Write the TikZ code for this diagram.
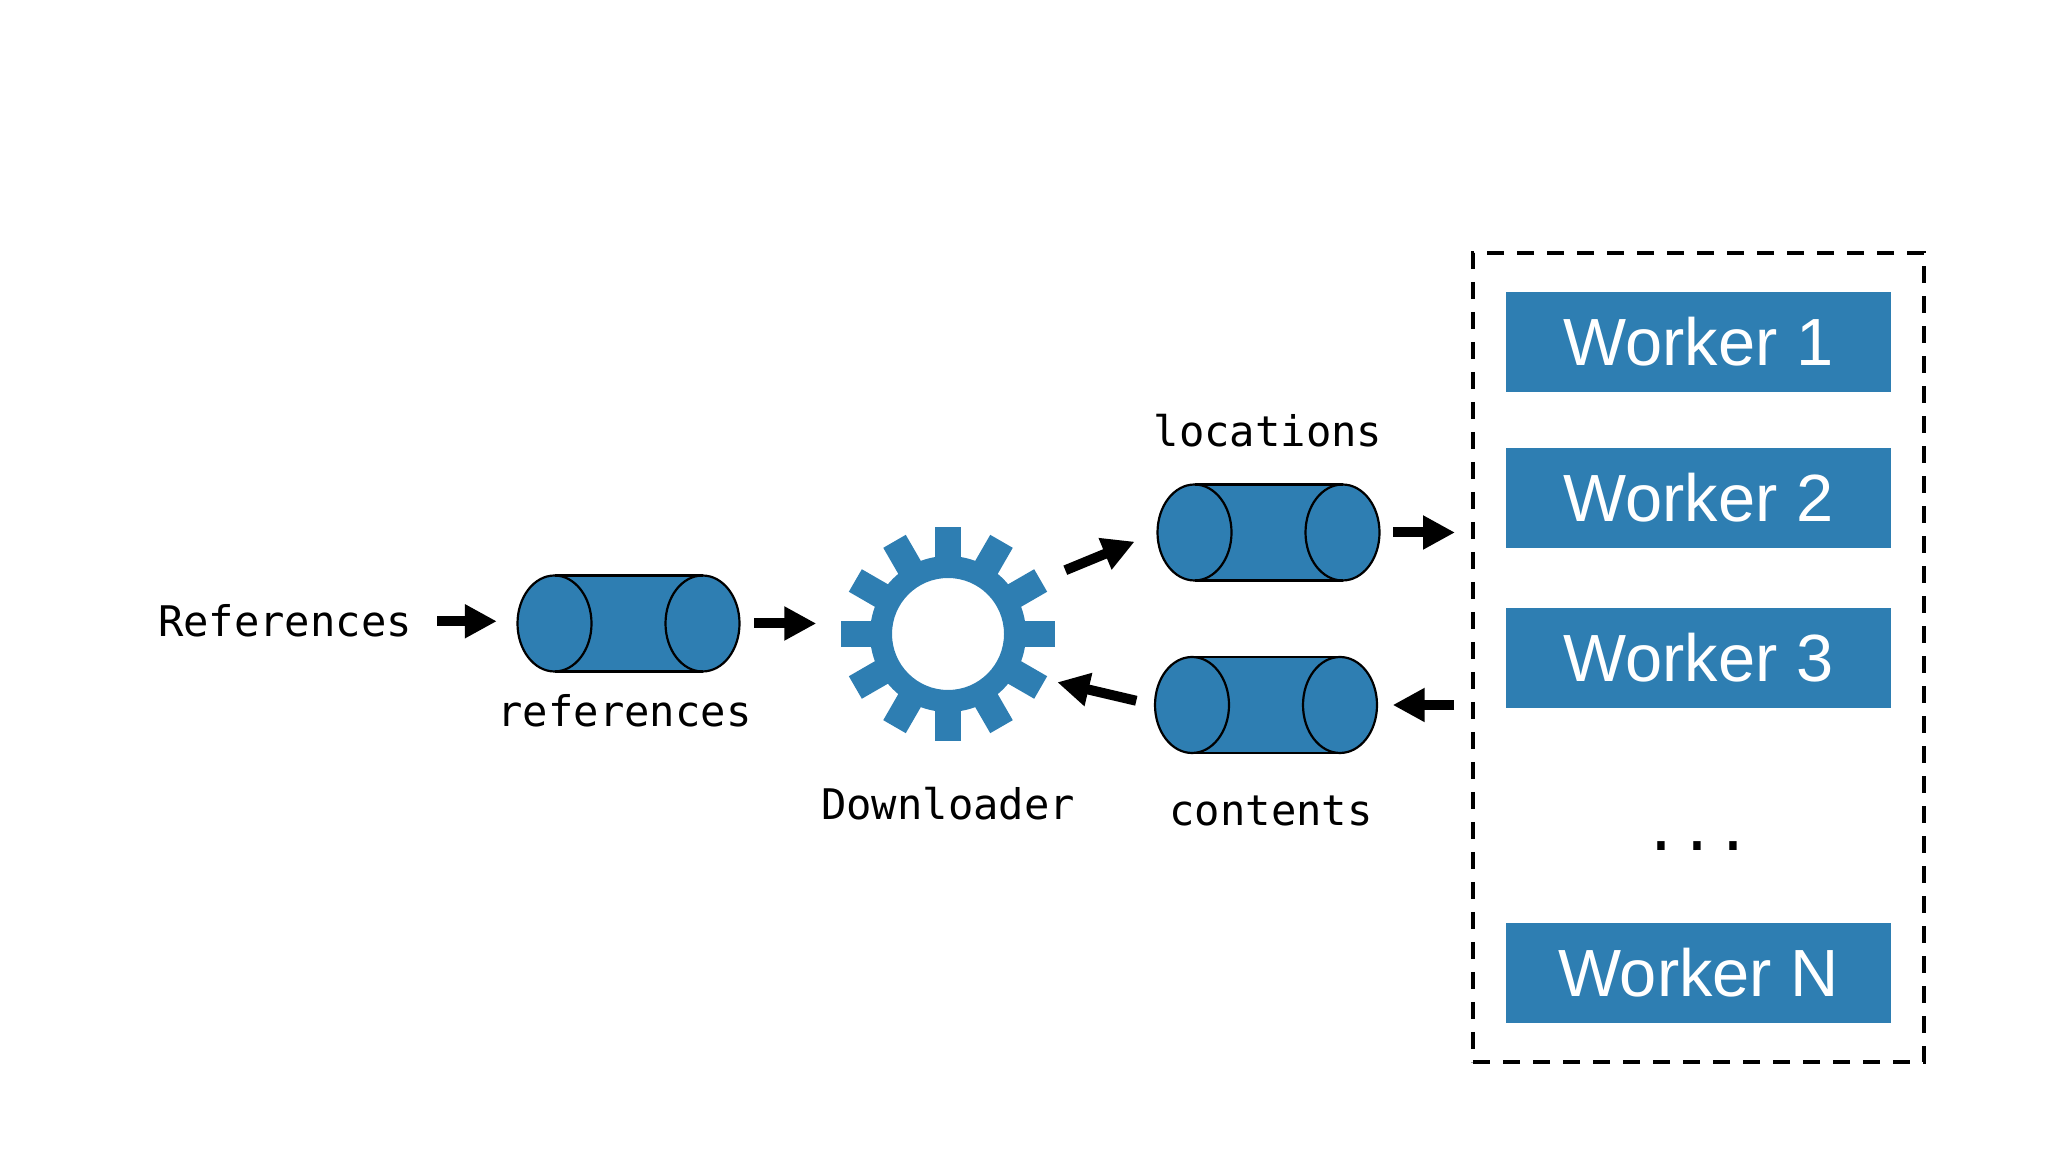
\documentclass[tikz,border=0pt]{standalone}
\usepackage{fontspec}
\setmainfont{Liberation Sans}
\setmonofont{DejaVu Sans Mono}
\usetikzlibrary{arrows.meta}

\definecolor{qblue}{RGB}{46,126,178}

\tikzset{
    flow/.style={line width=1mm, -{Triangle[length=3.2mm, width=3.2mm]}},
    monotext/.style={inner sep=0pt, anchor=base, font=\ttfamily\fontsize{12}{14}\selectfont},
    worker/.style={fill=qblue, text=white, minimum width=38.5mm, minimum height=10mm,
        inner sep=0pt, text height=4.8mm, text depth=0pt, font=\fontsize{19}{22}\selectfont},
    poolbox/.style={draw, line width=0.4mm, dash pattern=on 1.7mm off 1.3mm,
        minimum width=45.1mm, minimum height=80.9mm, inner sep=0pt},
    pics/queue/.style={code={
        \fill[qblue] (-74,-48) rectangle (74,48);
        \filldraw[fill=qblue, line width=0.22mm] (-74,0) ellipse [x radius=37, y radius=48];
        \filldraw[fill=qblue, line width=0.22mm] (74,0) ellipse [x radius=37, y radius=48];
        \draw[line width=0.22mm] (-74,-48) -- (74,-48) (-74,48) -- (74,48);
        \node[inner sep=0pt, minimum width=22.2mm, minimum height=9.6mm] (-body) {};
    }},
}

\begin{document}
\begin{tikzpicture}[x=0.1mm, y=-0.1mm]
    \useasboundingbox (0,0) rectangle (2048,1152);

    \node[monotext] (reftext) at (285,637) {References};

    \pic (refq) at (628.5,623.5) {queue};
    \node[monotext] (reflabel) at (624.5,727) {references};

    \node[circle, minimum size=21.4mm, inner sep=0pt] (gear) at (948,634) {};
    \begin{scope}[shift={(948,634)}]
        \fill[qblue, even odd rule] (0,0) circle (78) circle (56);
        \foreach \a in {0,30,...,330}
            \fill[qblue, rotate=\a] (-13,70) rectangle (13,107);
    \end{scope}
    \node[monotext] (gearlabel) at (948,820) {Downloader};

    \pic (locq) at (1268.5,532.5) {queue};
    \node[monotext] (loclabel) at (1268,447) {locations};
    \pic (conq) at (1266,705) {queue};
    \node[monotext] (conlabel) at (1271,826) {contents};

    \node[poolbox] (pool) at (1698.5,657.5) {};
    \foreach \n/\y in {1/342, 2/498, 3/658}
        \node[worker] (worker\n) at (1698.5,\y) {Worker \n};
    \node[monotext, font=\ttfamily\fontsize{17}{20}\selectfont] (dots) at (1697,851) {...};
    \node[worker] (workerN) at (1698.5,973) {Worker N};

    \draw[flow, shorten <=2.45mm, shorten >=2mm] (reftext.east) -- (reftext.east -| refq-body.west);
    \draw[flow, shorten <=1.4mm, shorten >=2.4mm] (refq-body.east) -- (refq-body.east -| gear.west);
    \draw[flow, shorten <=2.6mm, shorten >=2.4mm] (gear.30) -- (locq-body.west);
    \draw[flow, shorten <=1.3mm, shorten >=1.6mm] (locq-body.east) -- (locq-body.east -| pool.west);
    \draw[flow, shorten <=1.7mm, shorten >=1.5mm] (pool.west |- conq-body.east) -- (conq-body.east);
    \draw[flow, shorten <=1.85mm, shorten >=1.2mm] (conq-body.west) -- (gear.-25);
\end{tikzpicture}
\end{document}
